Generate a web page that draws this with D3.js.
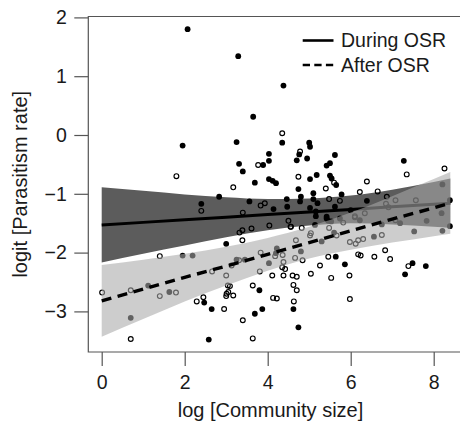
<!DOCTYPE html>
<html>
<head>
<meta charset="utf-8">
<script src="https://cdn.jsdelivr.net/npm/d3@7"></script>
<style>
  html, body { margin: 0; padding: 0; background: #fff; }
  svg { display: block; font-family: "Liberation Sans", Arial, Helvetica, sans-serif; }
</style>
</head>
<body>
<svg id="chart" width="460" height="424"></svg>
<script>
// ---- data ----
const xTicks = [0, 2, 4, 6, 8];
const yTicks = [-3, -2, -1, 0, 1, 2];
const xTitle = "log [Community size]";
const yTitle = "logit [Parasitism rate]";
const seriesNames = ["During OSR", "After OSR"];

const bandX       = [0, 1, 2, 3, 4, 5, 6, 7, 8, 8.4];
const duringFit   = [-1.53, -1.486, -1.442, -1.398, -1.354, -1.31, -1.266, -1.222, -1.178, -1.16];
const duringLower = [-2.17, -2.02, -1.88, -1.74, -1.62, -1.54, -1.50, -1.52, -1.56, -1.58];
const duringUpper = [-0.89, -0.95, -1.01, -1.06, -1.09, -1.08, -1.03, -0.93, -0.80, -0.74];
const afterFit    = [-2.82, -2.62, -2.42, -2.23, -2.03, -1.83, -1.63, -1.43, -1.24, -1.16];
const afterLower  = [-3.43, -3.13, -2.83, -2.56, -2.31, -2.10, -1.95, -1.83, -1.72, -1.68];
const afterUpper  = [-2.21, -2.12, -2.02, -1.90, -1.75, -1.56, -1.32, -1.04, -0.75, -0.63];

// During OSR observations (filled dots)
const duringX = [2.07, 3.29, 4.38, 3.65, 1.95, 3.25, 4.35, 5.00, 5.02, 4.76, 4.03, 4.95, 5.62, 4.70, 4.03,
  3.89, 3.31, 3.40, 5.42, 5.50, 7.28, 3.69, 4.03, 4.12, 4.20, 5.02, 5.18, 5.50, 5.54, 5.65,
  4.74, 5.10, 4.80, 5.78, 8.21, 6.39, 3.56, 4.14, 4.46, 4.47, 2.83, 2.40, 5.10, 5.02, 5.16,
  5.20, 5.42, 8.39, 5.62, 6.00, 6.22, 8.19, 7.83, 7.19, 6.75, 8.39, 8.21, 7.53, 5.14, 5.30,
  6.56, 4.03, 4.22, 4.20, 4.80, 5.64, 5.86, 7.31, 7.49, 7.81, 3.80, 3.87, 3.69, 4.62, 4.74,
  0.70, 1.12, 1.63, 1.95, 2.19, 3.00, 2.47, 2.65, 2.58, 3.25, 3.45, 5.16, 5.42, 5.46, 5.60,
  4.78, 5.74, 5.53];
const duringY = [1.80, 1.34, 0.84, 0.31, -0.18, -0.12, -0.13, -0.13, -0.20, -0.33, -0.32, -0.40, -0.34, -0.43, -0.44,
  -0.51, -0.49, -0.62, -0.52, -0.48, -0.44, -0.81, -0.75, -0.78, -0.82, -0.75, -0.68, -0.69, -0.74, -0.85,
  -0.92, -0.99, -1.05, -1.01, -0.84, -1.12, -1.13, -1.26, -1.09, -1.22, -1.05, -1.17, -1.09, -1.24, -1.30,
  -1.16, -1.39, -1.11, -1.22, -1.28, -1.45, -1.33, -1.46, -1.50, -1.52, -1.55, -1.63, -1.64, -1.53, -1.81,
  -1.73, -2.18, -1.93, -2.01, -1.98, -2.07, -2.20, -2.37, -2.18, -2.23, -2.64, -2.96, -3.04, -2.96, -3.27,
  -3.11, -2.56, -2.67, -2.05, -2.05, -1.85, -2.85, -2.96, -3.48, -2.12, -2.12, -1.38, -1.42, -1.46, -1.66,
  -1.13, -1.42, -1.47];

// After OSR observations (open circles)
const afterX = [1.80, 2.40, 4.35, 3.77, 7.35, 8.26, 3.17, 4.74, 5.60, 6.39, 6.22, 6.65, 5.40, 6.87, 7.08,
  7.57, 3.83, 3.93, 5.48, 5.74, 4.78, 3.40, 6.85, 6.91, 6.10, 6.34, 6.10, 5.82, 6.75, 3.39,
  3.39, 3.61, 4.04, 4.56, 4.82, 5.48, 5.02, 5.04, 4.68, 5.66, 5.98, 6.12, 6.18, 6.30, 7.08,
  3.13, 3.31, 4.18, 4.36, 4.38, 4.35, 4.42, 4.38, 4.66, 4.84, 3.81, 4.11, 4.60, 4.70, 4.62,
  4.70, 4.63, 5.04, 5.26, 5.46, 5.53, 5.97, 5.98, 6.18, 6.24, 6.57, 6.83, 6.95, 7.39, 3.64,
  3.17, 4.13, 4.22, 3.40, 3.64, 0.01, 0.70, 0.70, 1.40, 1.79, 1.40, 2.66, 3.00, 3.04, 3.01,
  2.29, 2.45, 2.95, 4.50, 4.55, 3.83, 3.09, 3.05, 3.00, 3.32];
const afterY = [-0.70, -1.29, 0.03, -0.51, -0.67, -0.57, -0.89, -0.71, -0.81, -0.79, -0.97, -0.96, -0.91, -1.05, -1.11,
  -1.11, -1.20, -1.16, -1.09, -1.12, -0.28, -1.32, -1.17, -1.23, -1.38, -1.33, -1.40, -1.49, -1.70, -1.79,
  -1.62, -1.59, -1.54, -1.56, -1.58, -1.58, -1.71, -1.67, -1.79, -1.71, -1.82, -1.85, -1.79, -1.77, -1.45,
  -2.22, -2.13, -2.06, -2.04, -2.16, -2.25, -2.28, -2.39, -2.09, -2.13, -2.32, -2.39, -2.39, -2.41, -2.55,
  -2.64, -2.83, -2.36, -2.22, -2.07, -2.43, -2.39, -2.79, -2.03, -2.05, -2.07, -1.96, -2.11, -2.23, -2.56,
  -2.73, -2.77, -2.78, -3.15, -3.46, -2.68, -2.64, -3.47, -2.74, -2.68, -2.06, -2.32, -2.39, -2.56, -2.70,
  -2.83, -2.76, -2.96, -1.46, -1.56, -2.00, -2.57, -2.67, -2.74, -1.66];

// ---- layout ----
const svg = d3.select("#chart");
const plotLeft = 88.3, plotTop = 16.5, plotBottom = 352, plotRight = 462;

const x = d3.scaleLinear().domain([0, 8]).range([101.7, 433.7]);
const y = d3.scaleLinear().domain([-3, 2]).range([311.4, 17.4]);

const bandRows = bandX.map((v, i) => ({
  x: v, dF: duringFit[i], dL: duringLower[i], dU: duringUpper[i],
  aF: afterFit[i], aL: afterLower[i], aU: afterUpper[i]
}));

svg.append("clipPath").attr("id", "plotclip")
  .append("rect").attr("x", plotLeft).attr("y", plotTop)
  .attr("width", plotRight - plotLeft).attr("height", plotBottom - plotTop);

const plot = svg.append("g").attr("clip-path", "url(#plotclip)");

// dark (During) confidence band
plot.append("path")
  .datum(bandRows)
  .attr("fill", "#5c5c5c")
  .attr("d", d3.area().curve(d3.curveMonotoneX)
    .x(d => x(d.x)).y0(d => y(d.dL)).y1(d => y(d.dU)));

// observations
plot.append("g").selectAll("circle")
  .data(duringX.map((v, i) => [v, duringY[i]]))
  .join("circle")
  .attr("cx", d => x(d[0])).attr("cy", d => y(d[1]))
  .attr("r", 2.9).attr("fill", "#000");

plot.append("g").selectAll("circle")
  .data(afterX.map((v, i) => [v, afterY[i]]))
  .join("circle")
  .attr("cx", d => x(d[0])).attr("cy", d => y(d[1]))
  .attr("r", 2.4).attr("fill", "none").attr("stroke", "#000").attr("stroke-width", 1.15);

// During fit line
plot.append("path")
  .datum(bandRows)
  .attr("fill", "none").attr("stroke", "#000").attr("stroke-width", 3)
  .attr("d", d3.line().x(d => x(d.x)).y(d => y(d.dF)));

// light (After) confidence band, semi-transparent
plot.append("path")
  .datum(bandRows)
  .attr("fill", "rgb(168,168,168)").attr("fill-opacity", 0.58)
  .attr("d", d3.area().curve(d3.curveMonotoneX)
    .x(d => x(d.x)).y0(d => y(d.aL)).y1(d => y(d.aU)));

// After fit line (dashed)
plot.append("path")
  .datum(bandRows)
  .attr("fill", "none").attr("stroke", "#000").attr("stroke-width", 3.4)
  .attr("stroke-dasharray", "10,6.5")
  .attr("d", d3.line().x(d => x(d.x)).y(d => y(d.aF)));

// ---- box (top, left, bottom) ----
svg.append("path")
  .attr("fill", "none").attr("stroke", "#555").attr("stroke-width", 1.2)
  .attr("d", `M${plotRight},${plotTop}H${plotLeft}V${plotBottom}H${plotRight}`);

// ---- axes ----
const xAxis = svg.append("g").attr("transform", `translate(0,${plotBottom})`)
  .call(d3.axisBottom(x).tickValues(xTicks).tickSize(14).tickPadding(9).tickFormat(d3.format("d")));
const yAxis = svg.append("g").attr("transform", `translate(${plotLeft},0)`)
  .call(d3.axisLeft(y).tickValues(yTicks).tickSize(14).tickPadding(7.5)
    .tickFormat(d => d < 0 ? "\u2212" + Math.abs(d) : String(d)));

[xAxis, yAxis].forEach(a => {
  a.select(".domain").remove();
  a.selectAll(".tick line").attr("stroke", "#555").attr("stroke-width", 1.2);
  a.selectAll(".tick text").attr("fill", "#1a1a1a")
    .style("font-size", "19.5px").style("font-family", "'Liberation Sans', Arial, sans-serif");
});

// axis titles
svg.append("text")
  .attr("x", 270.5).attr("y", 416.5)
  .attr("text-anchor", "middle").attr("fill", "#1a1a1a")
  .style("font-size", "20px")
  .text(xTitle);

svg.append("text")
  .attr("transform", `translate(27,${(plotTop + plotBottom) / 2}) rotate(-90)`)
  .attr("text-anchor", "middle").attr("fill", "#1a1a1a")
  .style("font-size", "20px")
  .text(yTitle);

// ---- legend ----
const legend = svg.append("g");
const legendRows = [
  { name: seriesNames[0], dash: null, y: 40.5 },
  { name: seriesNames[1], dash: "7.3,4.3", y: 65 }
];
legendRows.forEach(r => {
  legend.append("line")
    .attr("x1", 302.7).attr("x2", 333.5).attr("y1", r.y).attr("y2", r.y)
    .attr("stroke", "#000").attr("stroke-width", 2.6)
    .attr("stroke-dasharray", r.dash);
  legend.append("text")
    .attr("x", 341).attr("y", r.y + 6.6)
    .attr("fill", "#1a1a1a").style("font-size", "19.5px")
    .text(r.name);
});
</script>
</body>
</html>
